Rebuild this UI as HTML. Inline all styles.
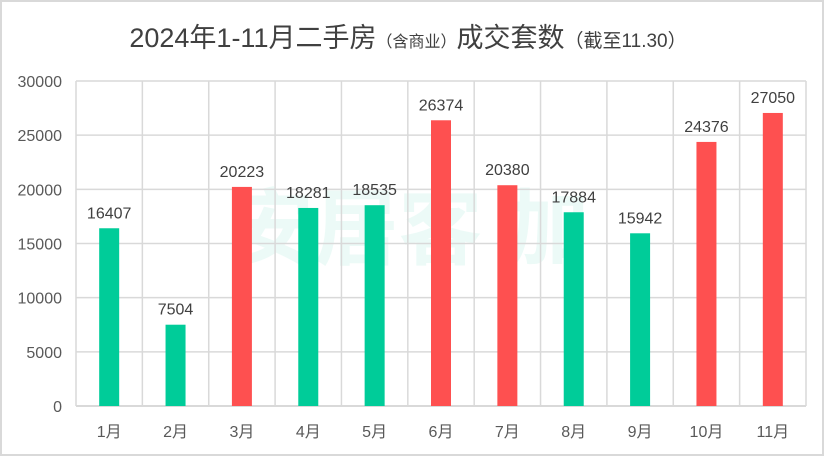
<!DOCTYPE html>
<html><head><meta charset="utf-8"><style>
body{margin:0;background:#fff}
svg{display:block;font-family:"Liberation Sans","Noto Sans CJK SC",sans-serif}
</style></head><body>
<svg id="c" width="824" height="456">
<rect x="1" y="1" width="822" height="454" fill="#fff" stroke="#d9d9d9" stroke-width="2"/>
<text x="408" y="47" text-anchor="middle" font-size="27" fill="#404040">2024年1-11月二手房<tspan font-size="16">（含商业）</tspan>成交套数<tspan font-size="19">（截至11.30）</tspan></text>
<text x="410" y="258" text-anchor="middle" font-size="84" font-weight="bold" fill="#00c896" opacity="0.07">安居客 加</text>
<g id="grid"></g><g id="bars"></g>
</svg>
<script>
const categories=["1月","2月","3月","4月","5月","6月","7月","8月","9月","10月","11月"];
const values=[16407,7504,20223,18281,18535,26374,20380,17884,15942,24376,27050];
const highlight=[0,0,1,0,0,1,1,0,0,1,1];
const yTicks=[0,5000,10000,15000,20000,25000,30000];
const NS="http://www.w3.org/2000/svg";
const L=76,R=806,T=81,B=406,MAX=30000;
const y=v=>B-(v/MAX)*(B-T);
const bw=(R-L)/categories.length;
const x=i=>L+bw*i+bw/2;
function mk(tag,attrs,parent){const e=document.createElementNS(NS,tag);for(const k in attrs)e.setAttribute(k,attrs[k]);parent.appendChild(e);return e;}
const g=document.getElementById('grid'),bg=document.getElementById('bars');
yTicks.forEach(t=>{
 const l=mk('line',{x1:L,x2:R,y1:y(t),y2:y(t),stroke:'#d9d9d9','stroke-width':t===0?2:1.5},g);
 
 
 const tx=mk('text',{x:L-14,y:y(t)+6,'text-anchor':'end','font-size':16,fill:'#595959'},g);
 tx.textContent=t;
 
 
});
for(let i=0;i<=categories.length;i++){
 const l=mk('line',{x1:L+bw*i,x2:L+bw*i,y1:T,y2:B,stroke:'#d9d9d9','stroke-width':1.5},g);
 
 
}
categories.forEach((c,i)=>{
 const r=mk('rect',{x:x(i)-10,y:y(values[i]),width:20,height:B-y(values[i]),fill:highlight[i]?'#fe5050':'#00cc99'},bg);
 
 
 const v=mk('text',{x:x(i),y:y(values[i])-10,'text-anchor':'middle','font-size':16,fill:'#404040'},bg);
 v.textContent=values[i];
 
 
 const cl=mk('text',{x:x(i),y:437,'text-anchor':'middle','font-size':16,fill:'#595959'},bg);
 cl.textContent=c;
 
 
});
</script>
</body></html>
